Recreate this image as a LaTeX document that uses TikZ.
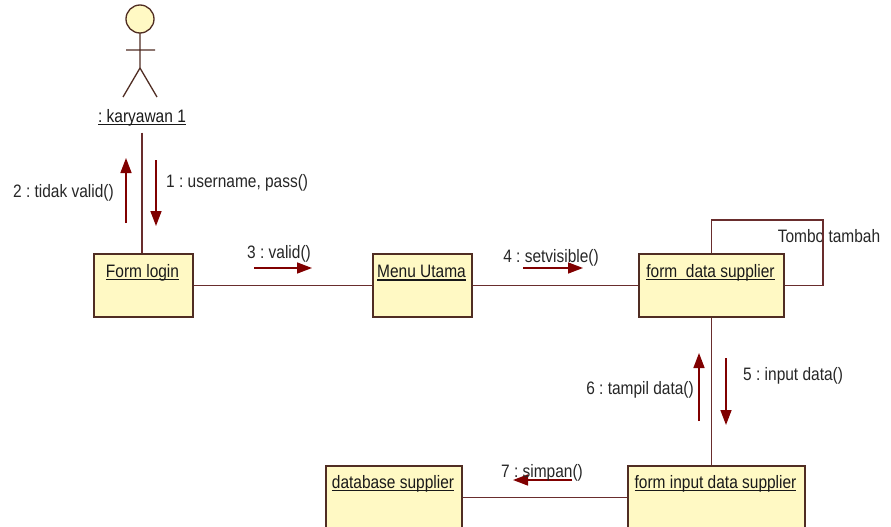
\documentclass[tikz,border=0pt]{standalone}
\usepackage{fontspec}
\setmainfont{Liberation Sans}[FakeStretch=0.86]
\usetikzlibrary{arrows.meta}
\definecolor{boxfill}{RGB}{255,249,196}
\definecolor{boxline}{RGB}{80,45,35}
\definecolor{connc}{RGB}{105,45,45}
\definecolor{msgc}{RGB}{128,0,0}
\newcommand\myul[1]{\setbox0\hbox{#1}\rlap{\vrule height -1.6pt depth 2.8pt width \wd0}\box0}
\tikzset{
  objbox/.style={draw=boxline, fill=boxfill, line width=1.8pt, inner sep=0pt, anchor=north west},
  objname/.style={inner sep=1pt, text=black!90},
  conn/.style={draw=connc, line width=1.5pt},
  msg/.style={draw=msgc, line width=1.5pt, -{Triangle[length=15pt,width=11pt]}, color=msgc},
  msglbl/.style={inner sep=0pt, text=black!85},
  every node/.append style={font=\fontsize{18}{21}\selectfont\frenchspacing}
}
\begin{document}
\begin{tikzpicture}[x=1pt,y=-1pt]
\useasboundingbox (0,0) rectangle (891,527);
\clip (0,0) rectangle (891,527);
% actor
\draw[boxline, line width=1.3pt, fill=boxfill] (140,19) circle[radius=14];
\draw[boxline, line width=1.3pt] (140,33) -- (140,68) (126,50) -- (155,50)
  (123,97) -- (140,68) -- (157,97);
\node[objname, inner sep=6pt] (actorlbl) at (142,118) {\myul{: karyawan 1}};
% boxes
\node[objbox, minimum width=99pt, minimum height=63pt] (login) at (93,253) {};
\node[objbox, minimum width=99pt, minimum height=63pt] (menu) at (372,253) {};
\node[objbox, minimum width=145pt, minimum height=63pt] (fds) at (638,253) {};
\node[objbox, minimum width=136pt, minimum height=63pt] (dbs) at (325,465) {};
\node[objbox, minimum width=177pt, minimum height=63pt] (fids) at (627,465) {};
\node[objname] (loginlbl) at (142.5,273) {\myul{Form login}};
\node[objname] (menulbl) at (421.5,273) {\myul{Menu Utama}};
\node[objname] (fdslbl) at (710.5,273) {\myul{form\ \ data supplier}};
\node[objname] (dbslbl) at (393,484) {\myul{database supplier}};
\node[objname] (fidslbl) at (715.5,484) {\myul{form input data supplier}};
% self-loop label
\node[msglbl] (loopl) at (829,236) {Tombo tambah};
% connectors
\draw[conn] (actorlbl.south) -- (actorlbl.south |- login.north);
\draw[conn] (login.east) -- (menu.west);
\draw[conn] (menu.east) -- (fds.west);
\draw[conn] (fds.south) -- (fds.south |- fids.north);
\draw[conn] (dbs.east) -- (fids.west);
\draw[conn] (fds.north) |- (823,220) |- (fds.east);
% messages
\coordinate (m1a) at (156,160); \coordinate (m1b) at (156,226);
\coordinate (m2a) at (126,223); \coordinate (m2b) at (126,158);
\coordinate (m3a) at (254,268); \coordinate (m3b) at (312,268);
\coordinate (m4a) at (523,268); \coordinate (m4b) at (583,268);
\coordinate (m5a) at (726,358); \coordinate (m5b) at (726,425);
\coordinate (m6a) at (699,421); \coordinate (m6b) at (699,353);
\coordinate (m7a) at (572,480); \coordinate (m7b) at (513,480);
\draw[msg] (m1a) -- (m1b);
\draw[msg] (m2a) -- (m2b);
\draw[msg] (m3a) -- (m3b);
\draw[msg] (m4a) -- (m4b);
\draw[msg] (m5a) -- (m5b);
\draw[msg] (m6a) -- (m6b);
\draw[msg] (m7a) -- (m7b);
% message labels
\node[msglbl, anchor=west] (l1) at (166,183) {1 : username, pass()};
\node[msglbl, anchor=east] (l2) at (114,193) {2 : tidak valid()};
\node[msglbl] (l3) at (279,254) {3 : valid()};
\node[msglbl] (l4) at (551,258) {4 : setvisible()};
\node[msglbl, anchor=west] (l5) at (743,376) {5 : input data()};
\node[msglbl, anchor=east] (l6) at (694,390) {6 : tampil data()};
\node[msglbl] (l7) at (542,473) {7 : simpan()};
\end{tikzpicture}
\end{document}
